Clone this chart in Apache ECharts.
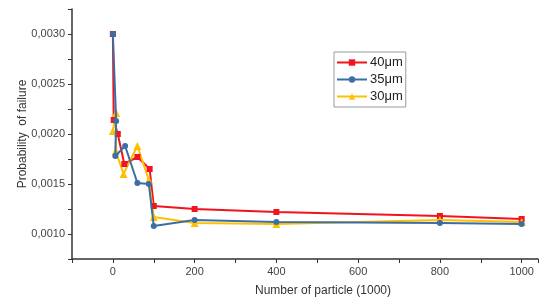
<!DOCTYPE html>
<html>
<head>
<meta charset="utf-8">
<script src="https://cdn.jsdelivr.net/npm/echarts@6/dist/echarts.min.js"></script>
<style>
html,body{margin:0;padding:0;background:#fff;}
#chart{width:541px;height:302px;}
</style>
</head>
<body>
<div id="chart"></div>
<script>
// series names
var names = ['40μm', '35μm', '30μm'];

// x = number of particles (1000), y = probability of failure
var x40 = [0, 2, 12, 28, 60, 90, 100, 200, 400, 800, 1000];
var y40 = [0.0030, 0.00214, 0.0020, 0.0017, 0.00177, 0.00165, 0.00128, 0.00125, 0.00122, 0.00118, 0.00115];

var x35 = [0, 8, 6, 30, 60, 88, 100, 200, 400, 800, 1000];
var y35 = [0.0030, 0.00213, 0.00178, 0.00188, 0.00151, 0.0015, 0.00108, 0.00114, 0.00112, 0.00111, 0.0011];

var x30 = [0, 8, 7, 26, 60, 88, 100, 200, 400, 800, 1000];
var y30 = [0.00203, 0.00221, 0.00183, 0.0016, 0.00188, 0.00154, 0.00117, 0.00111, 0.0011, 0.00114, 0.00112];

function pairs(xs, ys) {
    return xs.map(function (x, i) { return [x, ys[i]]; });
}

var colors = ['#f0141e', '#3a6ea5', '#ffc000'];
var symbols = ['rect', 'circle', 'triangle'];
var sizes = [6, 6, 8];
var sets = [pairs(x40, y40), pairs(x35, y35), pairs(x30, y30)];

var chart = echarts.init(document.getElementById('chart'));

var series = names.map(function (n, i) {
    return {
        name: n,
        type: 'line',
        data: sets[i],
        symbol: symbols[i],
        symbolSize: sizes[i],
        z: i == 1 ? 4 : 3,
        itemStyle: {color: colors[i]},
        lineStyle: {color: colors[i], width: 2}
    };
});

var option = {
    animation: false,
    textStyle: {fontFamily: 'Liberation Sans, Arial, sans-serif'},
    grid: {left: 72, right: 1, top: 9, bottom: 39},
    legend: {
        orient: 'vertical',
        left: 334,
        top: 52,
        itemWidth: 30,
        itemHeight: 8,
        itemGap: 0,
        padding: [2, 3, 2, 2],
        borderColor: '#999',
        borderWidth: 1,
        textStyle: {fontSize: 13, lineHeight: 17, color: '#222', padding: [0, 0, 0, -2]},
        data: names
    },
    xAxis: {
        type: 'value',
        min: -100,
        max: 1040,
        interval: 100,
        name: 'Number of particle (1000)',
        nameLocation: 'middle',
        nameGap: 26,
        nameMoveOverlap: false,
        nameTextStyle: {fontSize: 12, color: '#333', padding: [0, 0, 0, 36]},
        axisLine: {show: true, onZero: false, lineStyle: {color: '#333', width: 1.5}},
        axisTick: {show: true, length: 4, lineStyle: {color: '#333'}},
        axisLabel: {
            fontSize: 11,
            color: '#444',
            margin: 7,
            formatter: function (v) { return v % 200 === 0 && v >= 0 ? String(v) : ''; }
        },
        splitLine: {show: false}
    },
    yAxis: {
        type: 'value',
        min: 0.00075,
        max: 0.00325,
        interval: 0.00025,
        name: 'Probability  of failure',
        nameLocation: 'middle',
        nameGap: 43,
        nameMoveOverlap: false,
        nameTextStyle: {fontSize: 12, color: '#333'},
        axisLine: {show: true, onZero: false, lineStyle: {color: '#333', width: 1.5}},
        axisTick: {show: true, length: 4, lineStyle: {color: '#333'}},
        axisLabel: {
            fontSize: 11,
            color: '#444',
            margin: 7,
            formatter: function (v) {
                var k = Math.round(v * 10000);
                if (Math.abs(v * 10000 - k) > 1e-6 || k % 5 !== 0) return '';
                return v.toFixed(4).replace('.', ',');
            }
        },
        splitLine: {show: false}
    },
    series: series
};

chart.setOption(option);
window.addEventListener('resize', function () {
    chart.resize();
});
</script>
</body>
</html>
